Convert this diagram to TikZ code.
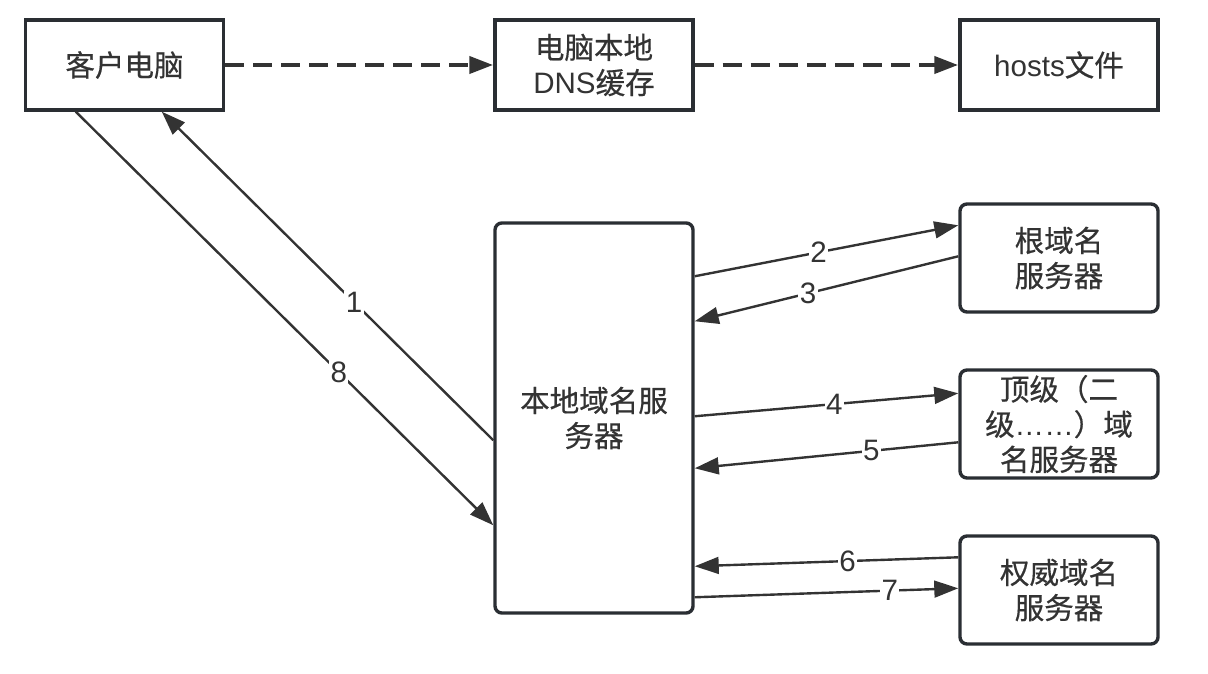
\documentclass[tikz,border=0pt]{standalone}
\usepackage{fontspec}
\setmainfont{Liberation Sans}
\newfontfamily\cjk[FakeBold=0.5]{Noto Sans CJK SC}
\usetikzlibrary{arrows.meta,calc}
\definecolor{myline}{HTML}{2A2E33}
\definecolor{mytext}{HTML}{333333}
\tikzset{
  box/.style={draw=myline, line width=2.4pt, fill=white, text=mytext, align=center,
              minimum width=4.95cm, minimum height=2.25cm, inner sep=1pt,
              font=\fontsize{21}{25}\selectfont},
  roundbox/.style={box, rounded corners=5pt, minimum height=2.7cm},
  arr/.style={-{Triangle[length=0.6cm, width=0.42cm]}, line width=1.7pt, draw=mytext},
  dasharr/.style={arr, line width=3.2pt, dash pattern=on 0.475cm off 0.225cm},
  lab/.style={fill=white, text=mytext, inner sep=1pt, font=\fontsize{21}{25}\selectfont},
}
\begin{document}
\begin{tikzpicture}[x=0.025cm, y=-0.025cm]
        \useasboundingbox (0,0) rectangle (1208,674);
        \node[box] (client) at (124.5,65) {{\cjk 客户电脑}};
        \node[box] (cache) at (594,65) {{\cjk 电脑本地}\\DNS{\cjk 缓存}};
        \node[box] (hosts) at (1059,65) {hosts{\cjk 文件}};
        \node[roundbox, minimum height=9.75cm] (srv) at (594,418) {{\cjk 本地域名服}\\{\cjk 务器}};
        \node[roundbox] (root) at (1059,258) {{\cjk 根域名}\\{\cjk 服务器}};
        \node[roundbox] (tld) at (1059,424) {{\cjk 顶级（二}\\{\cjk 级}……{\cjk ）域}\\{\cjk 名服务器}};
        \node[roundbox] (auth) at (1059,590) {{\cjk 权威域名}\\{\cjk 服务器}};
        \draw[dasharr] (client.east) -- (cache.west); \draw[dasharr] (cache.east) -- (hosts.west);
        \draw[arr] ($(srv.north west)+(0,219)$) -- node[lab, pos=0.42]{1} ($(client.south west)+(138,0)$);
        \draw[arr] ($(client.south west)+(52,0)$) -- node[lab, pos=0.63]{8} ($(srv.north west)+(0,304)$);
        \draw[arr] ($(srv.north east)+(0,55)$) -- node[lab, pos=0.47]{2} ($(root.north west)+(0,23)$);
        \draw[arr] ($(root.north west)+(0,54)$) -- node[lab, pos=0.57]{3} ($(srv.north east)+(0,100)$);
        \draw[arr] ($(srv.north east)+(0,195)$) -- node[lab, pos=0.53]{4} ($(tld.north west)+(0,25)$);
        \draw[arr] ($(tld.north west)+(0,74)$) -- node[lab, pos=0.33]{5} ($(srv.north east)+(0,247)$);
        \draw[arr] ($(auth.north west)+(0,23)$) -- node[lab, pos=0.42]{6} ($(srv.north east)+(0,345)$);
        \draw[arr] ($(srv.north east)+(0,376)$) -- node[lab, pos=0.74]{7} ($(auth.north west)+(0,54)$);
      \end{tikzpicture}
\end{document}
